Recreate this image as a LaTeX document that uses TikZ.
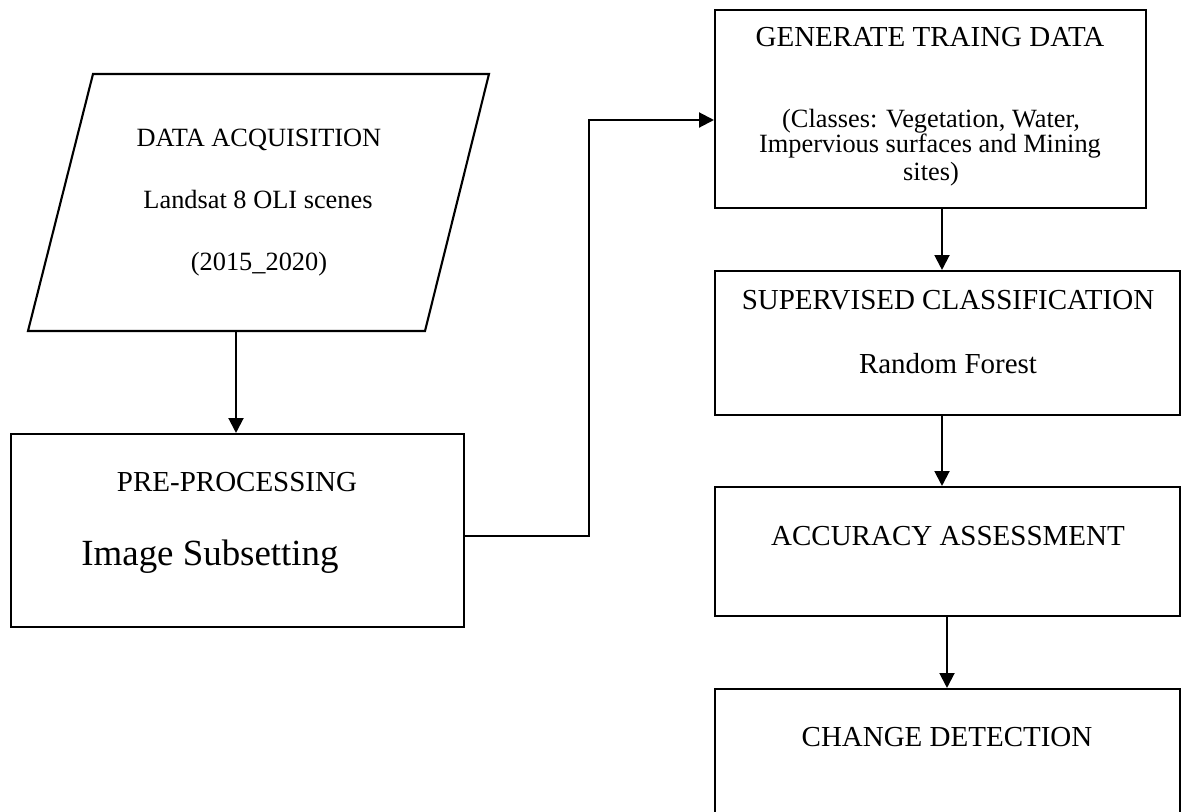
\documentclass[tikz,border=0pt]{standalone}
\usepackage{fontspec}
\setmainfont{Liberation Serif}
\usetikzlibrary{arrows.meta}
\begin{document}
\begin{tikzpicture}[x=0.02cm,y=-0.02cm,
 box/.style={draw,line width=1.2pt,rectangle,inner sep=0pt},
 txt/.style={anchor=base,inner sep=0pt,font=\fontsize{16.5}{19}\selectfont},
 stxt/.style={anchor=base,inner sep=0pt,font=\fontsize{15}{18}\selectfont},
 btxt/.style={anchor=base,inner sep=0pt,font=\fontsize{21}{25}\selectfont},
 arr/.style={line width=1.2pt,-{Triangle[length=8.5pt,width=8.5pt]}}]
\useasboundingbox (0,0) rectangle (1181,812);
% parallelogram
\coordinate (pTL) at (93,74);
\coordinate (pTR) at (489,74);
\coordinate (pBR) at (425,331);
\coordinate (pBL) at (28,331);
\draw[line width=1.2pt] (pTL) -- (pTR) -- (pBR) -- (pBL) -- cycle;
\coordinate (pbot) at (236,331);
\node[stxt] (t1) at (259,146.7) {DATA ACQUISITION};
\node[stxt] (t2) at (258,208) {Landsat 8 OLI scenes};
\node[stxt] (t3) at (259,270) {(2015\_2020)};
% boxes
\node[box,minimum width=9.06cm,minimum height=3.86cm] (pre) at (237.5,530.5) {};
\node[txt] (t4) at (237,491.7) {PRE-PROCESSING};
\node[btxt] (t5) at (210,565) {Image Subsetting};
\node[box,minimum width=8.62cm,minimum height=3.96cm] (gen) at (930.5,109) {};
\node[txt] (t6) at (930,46.7) {GENERATE TRAING DATA};
\node[stxt] (t7) at (931,127) {(Classes: Vegetation, Water,};
\node[stxt] (t8) at (930,152) {Impervious surfaces and Mining};
\node[stxt] (t9) at (931,180) {sites)};
\node[box,minimum width=9.3cm,minimum height=2.88cm] (sup) at (947.5,343) {};
\node[txt] (t10) at (948,309) {SUPERVISED CLASSIFICATION};
\node[txt] (t11) at (948,373) {Random Forest};
\node[box,minimum width=9.3cm,minimum height=2.58cm] (acc) at (947.5,551.5) {};
\node[txt] (t12) at (948,545.7) {ACCURACY ASSESSMENT};
\node[box,minimum width=9.3cm,minimum height=3.22cm] (chg) at (947.5,769.5) {};
\node[txt] (t13) at (947,746.7) {CHANGE DETECTION};
% connectors
\draw[arr] (pbot) -- (pbot |- pre.north);
\coordinate (bend) at (589,120);
\draw[arr] ([yshift=-0.11cm]pre.east) -| (bend) -- (bend -| gen.west);
\coordinate (c1) at (942,0);
\draw[arr] (gen.south -| c1) -- (sup.north -| c1);
\draw[arr] (sup.south -| c1) -- (acc.north -| c1);
\coordinate (c2) at (947,0);
\draw[arr] (acc.south -| c2) -- (chg.north -| c2);
\end{tikzpicture}
\end{document}
